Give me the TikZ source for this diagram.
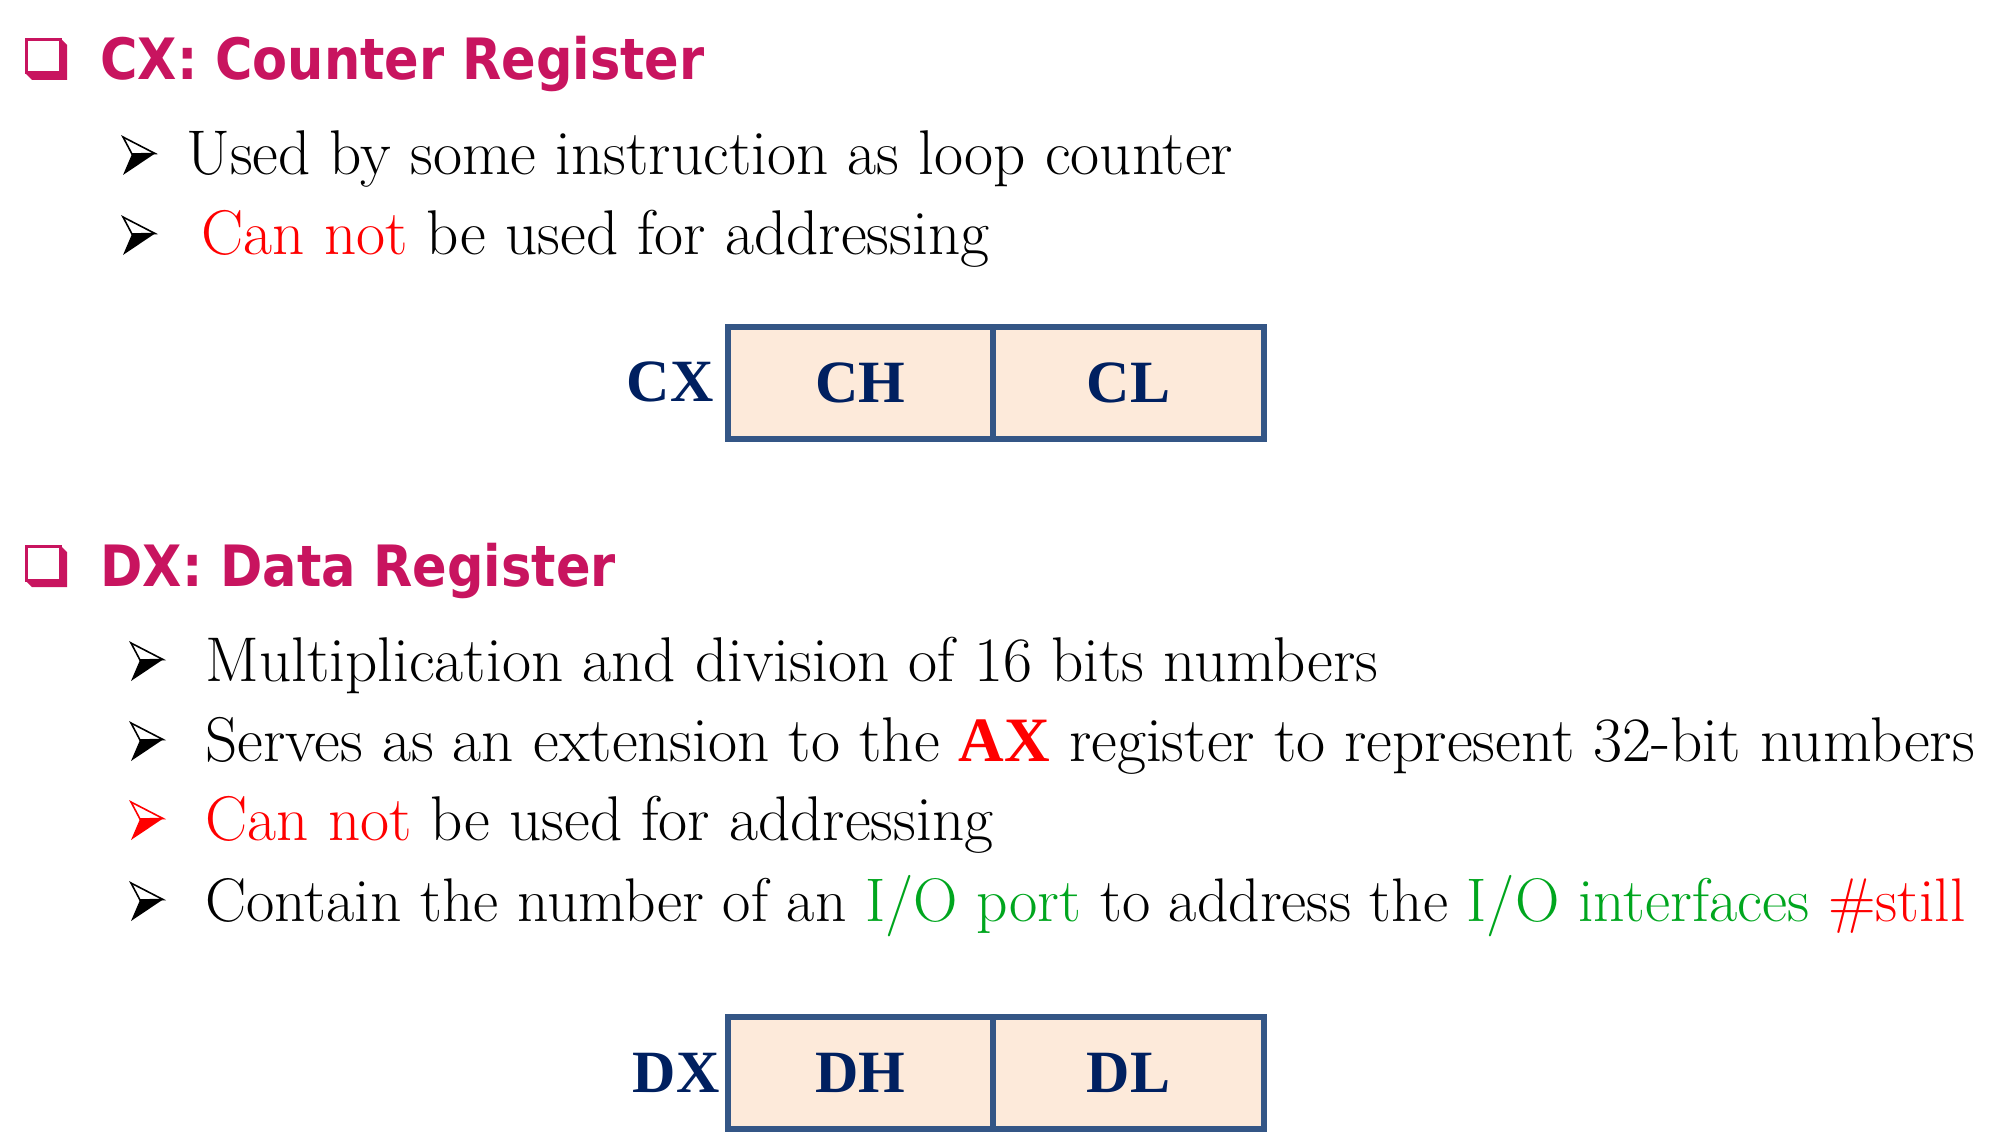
\documentclass[tikz,border=0pt]{standalone}
\usepackage{fontspec}
\newfontfamily\headfont{DejaVu Sans}[FakeStretch=0.895]
\newfontfamily\regfont{Liberation Serif}
\definecolor{headc}{RGB}{200,20,95}
\definecolor{navy}{RGB}{0,32,96}
\definecolor{boxline}{RGB}{52,86,134}
\definecolor{boxfill}{RGB}{253,234,218}
\definecolor{grn}{RGB}{0,166,30}
\definecolor{rd}{RGB}{255,0,0}
\tikzset{
  body/.style={anchor=base west, inner sep=0pt, font=\fontsize{31.6}{37}\selectfont},
  head/.style={anchor=base west, inner sep=0pt, text=headc, font=\headfont\bfseries\fontsize{28.5}{34}\selectfont},
  regbox/.style={draw=boxline, line width=3pt, fill=boxfill, inner sep=0pt, minimum height=56pt, text=navy, font=\regfont\bfseries\fontsize{30}{36}\selectfont},
  reglabel/.style={anchor=base east, inner sep=0pt, text=navy, font=\regfont\bfseries\fontsize{30}{36}\selectfont},
  bul/.pic={
    \filldraw[draw=#1, fill=white, line width=0.8pt, line join=miter] (0,-38) -- (32,-21.5) -- (9,-21) -- cycle;
    \fill[#1] (9,-21) -- (32,-21.5) -- (0,0) -- cycle;
  },
  bul/.default=black,
  chk/.pic={
    \draw[headc, line width=1.5pt] (1.5,1.5) rectangle (35,35);
    \fill[headc] (35,0) -- (42,7) -- (42,42) -- (7,42) -- (0,35) -- (35,35) -- cycle;
  }
}
\begin{document}
\begin{tikzpicture}[x=0.5pt, y=-0.5pt]
\useasboundingbox (0,0) rectangle (2000,1139);
% CX section
\pic at (25,38) {chk};
\node[head] (h1) at (100,80) {CX: Counter Register};
\pic at (123,175) {bul};
\node[body] (c1) at (186,175) {Used by some instruction as loop counter};
\pic at (123,255) {bul};
\node[body] (c2) at (201,255) {\textcolor{rd}{Can not} be used for addressing};
\node[regbox, minimum width=132.5pt] (ch) at (860.5,382.5) {CH};
\node[regbox, minimum width=135.5pt] (cl) at (1128.5,382.5) {CL};
\node[reglabel] (cx) at (714,401) {CX};
% DX section
\pic at (25,545) {chk};
\node[head] (h2) at (100,586) {DX: Data Register};
\pic at (131,681) {bul};
\node[body] (d1) at (205,681) {Multiplication and division of 16 bits numbers};
\pic at (131,761) {bul};
\node[body] (d2) at (205,761) {Serves as an extension to the \textcolor{rd}{\regfont\bfseries AX} register to represent 32-bit numbers};
\pic at (131,840) {bul=rd};
\node[body] (d3) at (205,840) {\textcolor{rd}{Can not} be used for addressing};
\pic at (131,921) {bul};
\node[body, font=\fontsize{30.8}{37}\selectfont] (d4) at (205,921) {Contain the number of an \textcolor{grn}{I/O port} to address the \textcolor{grn}{I/O interfaces} \textcolor{rd}{\#still}};
\node[regbox, minimum width=132.5pt] (dh) at (860.5,1073) {DH};
\node[regbox, minimum width=135.5pt] (dl) at (1128.5,1073) {DL};
\node[reglabel] (dx) at (720,1092) {DX};
\end{tikzpicture}
\end{document}
